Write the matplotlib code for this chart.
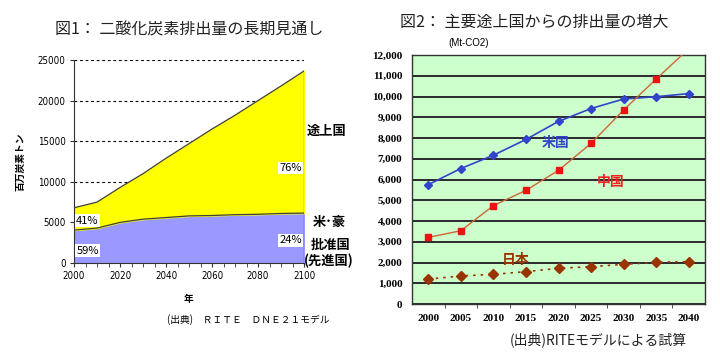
import matplotlib
matplotlib.use('Agg')
import matplotlib.pyplot as plt
from matplotlib.ticker import MultipleLocator, FuncFormatter

plt.rcParams['font.family'] = ['Noto Sans CJK JP', 'DejaVu Sans']

# --- Figure 1 data: long-term CO2 outlook (million t-C) ---
years1 = [2000, 2010, 2020, 2030, 2040, 2050, 2060, 2070, 2080, 2090, 2100]
developed = [4050, 4300, 5000, 5400, 5600, 5800, 5850, 5950, 6000, 6100, 6150]
total = [6800, 7500, 9300, 11000, 12900, 14700, 16500, 18200, 20000, 21800, 23650]

# --- Figure 2 data: emissions of major countries (Mt-CO2) ---
years2 = ['2000', '2005', '2010', '2015', '2020', '2025', '2030', '2035', '2040']
usa = [5750, 6530, 7170, 7930, 8800, 9420, 9880, 9990, 10140]
china = [3210, 3530, 4740, 5480, 6440, 7740, 9350, 10840, 12300]
japan = [1200, 1350, 1430, 1560, 1720, 1800, 1910, 2010, 2040]

fig = plt.figure(figsize=(7.2, 3.6), dpi=100)
fig.patch.set_facecolor('white')

# ---------------- left chart ----------------
ax1 = fig.add_axes([74/720, 1-263/360, 230/720, 203/360])
ax1.fill_between(years1, 0, developed, color='#9999FF', zorder=2)
ax1.fill_between(years1, developed, total, color='#FFFF00', zorder=2)
ax1.plot(years1, total, color='#404040', lw=0.9, zorder=3)
ax1.plot(years1, developed, color='#404040', lw=0.9, zorder=3)
ax1.vlines(years1[-1], 0, total[-1], color='#404040', lw=0.9, zorder=3)
ax1.set_xlim(2000, 2100)
ax1.set_ylim(0, 25000)
ax1.yaxis.set_major_locator(MultipleLocator(5000))
ax1.xaxis.set_major_locator(MultipleLocator(20))
ax1.xaxis.set_minor_locator(MultipleLocator(5))
ax1.grid(axis='y', color='black', ls=(0, (2.5, 2.5)), lw=0.8, zorder=0)
for s in ['top', 'right']:
    ax1.spines[s].set_visible(False)
ax1.spines['left'].set_color('#333333')
ax1.spines['bottom'].set_color('#333333')
ax1.tick_params(axis='both', labelsize=7, length=3, color='#333333', pad=3)
ax1.tick_params(axis='x', which='minor', length=3, color='#333333')
for lab in ax1.get_xticklabels() + ax1.get_yticklabels():
    lab.set_family('DejaVu Sans')
    lab.set_stretch('condensed')
ax1.set_xlabel('年', fontsize=7, fontweight='bold', labelpad=9)
ax1.set_ylabel('百万炭素トン', fontsize=7, fontweight='bold', labelpad=9)

box = dict(facecolor='white', edgecolor='none', pad=1)
ax1.text(2001, 5200, '41%', fontsize=8, va='center', ha='left', bbox=box, zorder=4)
ax1.text(2001, 1500, '59%', fontsize=8, va='center', ha='left', bbox=box, zorder=4)
ax1.text(2099, 11700, '76%', fontsize=8, va='center', ha='right', bbox=box, zorder=4)
ax1.text(2099, 2800, '24%', fontsize=8, va='center', ha='right', bbox=box, zorder=4)
ax1.text(2101, 16300, '途上国', fontsize=9.5, fontweight='bold', va='center', ha='left',
         clip_on=False)
ax1.text(2104, 5000, '米･豪', fontsize=9.5, fontweight='bold', va='center', ha='left',
         clip_on=False)
ax1.text(2103, 2200, '批准国', fontsize=9.5, fontweight='bold', va='center', ha='left',
         clip_on=False)
ax1.text(2100, 200, '(先進国)', fontsize=9.5, fontweight='bold', va='center', ha='left',
         clip_on=False)

fig.text(55/720, 1-30/360, '図1： 二酸化炭素排出量の長期見通し', fontsize=11.5,
         ha='left', va='center', color='#222222')
fig.text(248/720, 1-320/360, '(出典)　ＲＩＴＥ　ＤＮＥ２１モデル', fontsize=7,
         ha='center', va='center')

# ---------------- right chart ----------------
ax2 = fig.add_axes([412/720, 1-304/360, 293/720, 249/360])
ax2.set_facecolor('#CCFFCC')
x = list(range(len(years2)))
ax2.plot(x, usa, color='#3344CC', marker='D', ms=4, lw=1.2, zorder=3)
ax2.plot(x, china, color='#CC6633', lw=1.0, zorder=3)
ax2.plot(x, china, color='#EE1111', marker='s', ms=5, ls='none', zorder=4)
ax2.plot(x, japan, color='#993300', marker='D', ms=5, ls=(0, (1.5, 3)), lw=1.2, zorder=3)
ax2.set_xlim(-0.5, len(years2) - 0.5)
ax2.set_ylim(0, 12000)
ax2.yaxis.set_major_locator(MultipleLocator(1000))
ax2.yaxis.set_major_formatter(FuncFormatter(lambda v, p: f'{int(v):,}'))
ax2.set_xticks(x)
ax2.set_xticklabels(years2)
ax2.set_xticks([i + 0.5 for i in x[:-1]], minor=True)
ax2.grid(axis='y', color='#2a2a2a', lw=1.4, zorder=1)
ax2.set_axisbelow(True)
for s in ax2.spines.values():
    s.set_color('#333333')
    s.set_linewidth(1.0)
ax2.tick_params(axis='y', length=0, pad=7)
ax2.tick_params(axis='x', which='major', length=0, pad=7)
ax2.tick_params(axis='x', which='minor', length=3, direction='out', color='#333333')
for lab in ax2.get_xticklabels() + ax2.get_yticklabels():
    lab.set_family('Liberation Serif')
    lab.set_fontweight('bold')
    lab.set_fontsize(8)

ax2.text(3.9, 7750, '米国', color='#3344CC', fontsize=10, fontweight='bold', ha='center',
         va='center', zorder=5)
ax2.text(5.6, 5900, '中国', color='#EE2222', fontsize=10, fontweight='bold', ha='center',
         va='center', zorder=5)
ax2.text(2.7, 2100, '日本', color='#993300', fontsize=10, fontweight='bold', ha='center',
         va='center', zorder=5)

fig.text(400/720, 1-22/360, '図2： 主要途上国からの排出量の増大', fontsize=11.5,
         ha='left', va='center', color='#222222')
fig.text(448/720, 1-43/360, '(Mt-CO2)', fontsize=7, ha='left', va='center',
         family='Liberation Sans')
fig.text(598/720, 1-340/360, '(出典)RITEモデルによる試算', fontsize=10, ha='center',
         va='center', color='#222222')

fig.savefig('out.png', dpi=100, facecolor='white')
